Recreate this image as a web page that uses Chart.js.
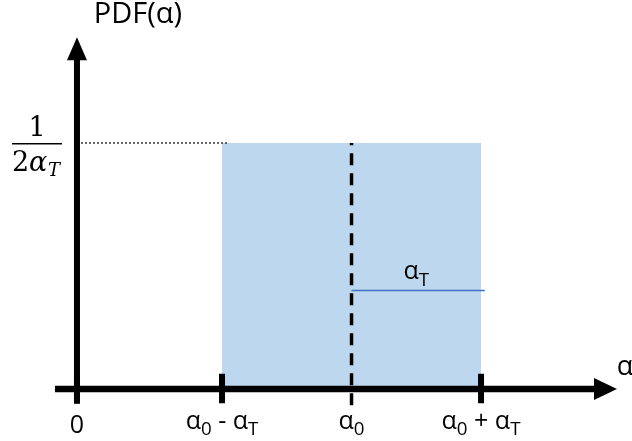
<!DOCTYPE html>
<html><head><meta charset="utf-8">
<script src="https://cdn.jsdelivr.net/npm/chart.js@4"></script>
<style>html,body{margin:0;padding:0;background:#fff;overflow:hidden}canvas{display:block}</style>
</head><body>
<canvas id="c" width="632" height="441"></canvas>
<script>
// ---- data (schematic uniform PDF) ----
const alpha0 = 2.12;          // centre
const alphaT = 1.0;           // half width
const pdfHeight = 0.5;        // 1 / (2 alphaT)
const markerY = 0.2;          // height of the alphaT bracket line
const tickValues = [0, alpha0 - alphaT, alpha0, alpha0 + alphaT];
const tickLabels = ["0", "α0 - αT", "α0", "α0 + αT"];
const rectX = [alpha0 - alphaT, alpha0 + alphaT];
const axisXRange = [-0.17, 4.0];
const axisYRange = [-0.03, 0.67];

const FONT = '"Open Sans", sans-serif';

function richText(ctx, str, cx, cy, size, color) {
  // characters following α that are 0 or T become subscripts
  const segs = [];
  for (let i = 0; i < str.length; i++) {
    const ch = str[i];
    const sub = (ch === '0' || ch === 'T') && i > 0 && str[i - 1] === 'α';
    segs.push({ t: ch, sub });
  }
  const subSize = size * 0.75;
  let w = 0;
  segs.forEach(s => { ctx.font = (s.sub ? subSize : size) + 'px ' + FONT; s.w = ctx.measureText(s.t).width; w += s.w; });
  let x = cx - w / 2;
  ctx.fillStyle = color || '#000';
  ctx.textBaseline = 'alphabetic';
  ctx.textAlign = 'left';
  const base = cy + size * 0.27;
  segs.forEach(s => {
    ctx.font = (s.sub ? subSize : size) + 'px ' + FONT;
    ctx.fillText(s.t, x, s.sub ? base + size * 0.26 : base);
    x += s.w;
  });
}

const overlay = {
  id: 'overlay',
  afterDatasetsDraw(chart) {
    const ctx = chart.ctx;
    const xs = chart.scales.x, ys = chart.scales.y;
    const X = v => xs.getPixelForValue(v), Y = v => ys.getPixelForValue(v);
    ctx.save();
    ctx.fillStyle = '#000';
    // y-axis arrow head
    const yTop = Y(axisYRange[1]);
    ctx.beginPath();
    ctx.moveTo(X(0), yTop - 22);
    ctx.lineTo(X(0) - 10, yTop + 1);
    ctx.lineTo(X(0) + 10, yTop + 1);
    ctx.closePath(); ctx.fill();
    // x-axis arrow head
    const xEnd = X(axisXRange[1]);
    ctx.beginPath();
    ctx.moveTo(xEnd + 22, Y(0));
    ctx.lineTo(xEnd - 1, Y(0) - 11);
    ctx.lineTo(xEnd - 1, Y(0) + 11);
    ctx.closePath(); ctx.fill();
    // tick labels
    tickValues.forEach((v, i) => richText(ctx, tickLabels[i], X(v), Y(0) + 33 + (i === 0 ? 4 : 0), 25));
    // alphaT label
    richText(ctx, "αT", (X(alpha0) + X(alpha0 + alphaT)) / 2, Y(markerY) - 18, 25);
    // axis titles
    richText(ctx, "PDF(α)", X(0) + 61, 15, 29);
    richText(ctx, "α", X(axisXRange[1]) + 30, Y(0) - 21, 27);
    // fraction 1/(2αT)
    const fy = Y(pdfHeight);
    ctx.textAlign = 'center'; ctx.textBaseline = 'alphabetic';
    ctx.font = '27px "DejaVu Serif", serif';
    ctx.fillText('1', 37, fy - 7);
    ctx.fillRect(12, fy, 50, 1.5);
    ctx.textAlign = 'left';
    ctx.font = '27px "DejaVu Serif", serif';
    ctx.fillText('2', 12, fy + 28);
    ctx.font = 'italic 27px "DejaVu Serif", serif';
    ctx.fillText('α', 29, fy + 28);
    ctx.font = 'italic 18px "DejaVu Serif", serif';
    ctx.fillText('T', 48, fy + 33);
    ctx.restore();
  }
};

const seg = (pts, extra) => Object.assign({
  data: pts.map(p => ({ x: p[0], y: p[1] })),
  showLine: true, pointRadius: 0, borderColor: '#000', borderWidth: 1, fill: false, order: 1
}, extra);

new Chart(document.getElementById('c'), {
  type: 'scatter',
  data: {
    datasets: [
      // uniform density rectangle
      seg([[rectX[0], pdfHeight], [rectX[1], pdfHeight]], { fill: 'origin', backgroundColor: '#BDD7EE', borderWidth: 0, borderColor: 'rgba(0,0,0,0)', order: 10 }),
      // dotted level line
      seg([[0, pdfHeight], [rectX[0] + 0.05, pdfHeight]], { borderDash: [2, 2], borderWidth: 1.2, order: 5 }),
      // alphaT bracket
      seg([[alpha0, markerY], [alpha0 + alphaT + 0.03, markerY]], { borderColor: '#4472C4', borderWidth: 1.5, order: 5 }),
      // dashed centre line
      seg([[alpha0, -0.033], [alpha0, pdfHeight]], { borderDash: [12, 8], borderWidth: 3.5, order: 4 }),
      // axes
      seg([[axisXRange[0], 0], [axisXRange[1], 0]], { borderWidth: 6.5, order: 2, borderCapStyle: 'butt' }),
      seg([[0, axisYRange[0]], [0, axisYRange[1]]], { borderWidth: 6, order: 2, borderCapStyle: 'butt' }),
      // tick marks
      ...tickValues.filter(v => v !== alpha0).map(v =>
        seg([[v, -0.029], [v, 0.031]], { borderWidth: 6, order: 2, borderCapStyle: 'butt' }))
    ]
  },
  options: {
    responsive: false, animation: false, devicePixelRatio: 1,
    layout: { padding: { left: 44.6, right: 11.1, top: 5.2, bottom: 12.6 } },
    plugins: { legend: { display: false }, tooltip: { enabled: false } },
    scales: {
      x: { type: 'linear', min: -0.25, max: 4.2, display: false },
      y: { type: 'linear', min: -0.08, max: 0.78, display: false }
    }
  },
  plugins: [overlay]
});
</script>
</body></html>
